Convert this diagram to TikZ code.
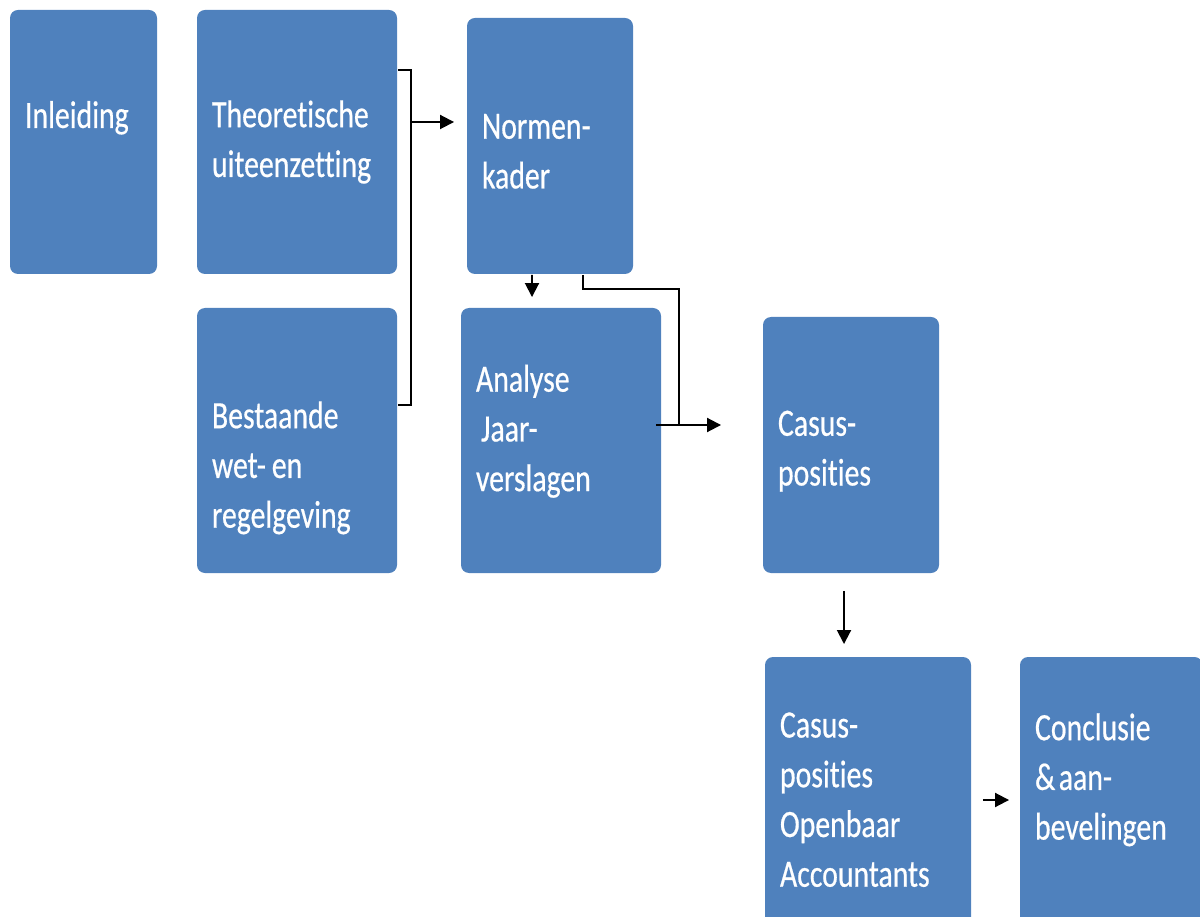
\documentclass[tikz,border=0pt]{standalone}
\usepackage{fontspec}
\setmainfont{Carlito}[FakeStretch=0.77, FakeBold=0.5, Ligatures={NoCommon,NoContextual,NoRequired}]
\usetikzlibrary{arrows.meta}
\definecolor{blokblauw}{HTML}{4F81BD}

\tikzset{
    blok/.style={fill=blokblauw, rounded corners=0.16cm, text=white, align=left,
        inner xsep=0.3cm, font=\fontsize{22}{28.3}\selectfont},
    pijl/.style={-{Triangle[length=0.28cm,width=0.28cm]}},
}

\begin{document}
\begin{tikzpicture}[line width=1.1pt]
\useasboundingbox (0,0) rectangle (24,-18.34);
\node[blok, minimum width=2.94cm, minimum height=5.28cm, text width=2.34cm, text depth=1.1cm]
    (inleiding) at (1.67,-2.84) {Inleiding};
\node[blok, minimum width=4cm, minimum height=5.28cm, text width=3.4cm]
    (theorie) at (5.94,-2.84) {Theoretische\\uiteenzetting};
\node[blok, minimum width=4cm, minimum height=5.3cm, text width=3.4cm, text height=1.63cm]
    (wetgeving) at (5.94,-8.81) {Bestaande\\wet-\hspace{0.12cm}en\\regelgeving};
\node[blok, minimum width=3.32cm, minimum height=5.12cm, text width=2.72cm, text height=0.71cm]
    (normen) at (11,-2.92) {Normen-\\kader};
\node[blok, minimum width=4cm, minimum height=5.3cm, text width=3.4cm, text depth=2.49cm]
    (analyse) at (11.22,-8.81) {Analyse\\\hspace{0.1cm}Jaar-\\verslagen};
\node[blok, minimum width=3.52cm, minimum height=5.12cm, text width=2.92cm, text height=0.75cm]
    (casus) at (17.02,-8.9) {Casus-\\posities};
\node[blok, minimum width=4.12cm, minimum height=5.36cm, text width=3.52cm, text height=0.85cm]
    (casusoa) at (17.36,-15.82) {Casus-\\posities\\Openbaar\\Accountants};
\node[blok, minimum width=3.65cm, minimum height=5.36cm, text width=3.05cm, text depth=2.57cm]
    (conclusie) at (22.225,-15.82) {Conclusie\\\&\hspace{0.07cm}aan-\\bevelingen};

\coordinate (brk) at (8.22,-2.44);
\coordinate (hoek) at (13.58,-5.78);
\coordinate (knik) at (13.58,-8.5);

\draw ([yshift=1.44cm]theorie.east) -| (brk) |- ([yshift=0.71cm]wetgeving.east);
\draw[pijl] (brk) -- ([xshift=-0.24cm]brk -| normen.west);
\draw[pijl] ([xshift=-0.36cm]normen.south) -- ([xshift=-0.58cm,yshift=0.2cm]analyse.north);
\draw ([xshift=0.66cm]normen.south) |- (hoek) -- (knik);
\draw[pijl] ([xshift=-0.12cm]knik -| analyse.east) -- ([xshift=-0.82cm]knik -| casus.west);
\draw[pijl] ([xshift=-0.14cm,yshift=-0.34cm]casus.south) -- ([xshift=-0.48cm,yshift=0.24cm]casusoa.north);
\draw[pijl] ([xshift=0.22cm,yshift=-0.18cm]casusoa.east) -- ([xshift=-0.2cm,yshift=-0.18cm]conclusie.west);
\end{tikzpicture}
\end{document}
